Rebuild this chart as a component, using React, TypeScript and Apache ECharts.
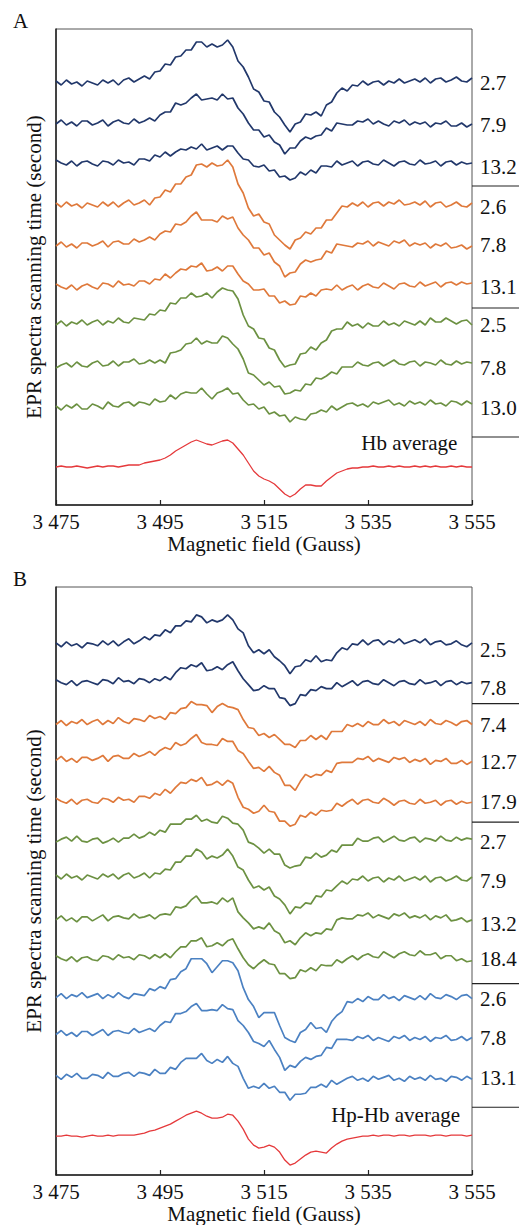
import React, { useEffect, useRef } from "react";
import * as echarts from "echarts";

// Magnetic field sampling (Gauss), one point per Gauss
const FIELD: number[] = Array.from({ length: 81 }, (_, i) => 3475 + i);
const TICK_MIN = 3475;
const TICK_MAX = 3555;
const TICK_STEP = 20;

// ---------- Panel A (Hb) : signal relative to each trace's left baseline (a.u.) ----------
const A_NAVY_27 = [2,-2,3,-1,1,-3,2,0,-2,3, 0,3,-2,3,5,1,4,7,4,11, 12,19,18,26,27,33,33,41,41,36, 39,36,38,43,36,22,16,6,-6,-9, -18,-19,-29,-34,-42,-49,-41,-39,-31,-32, -29,-33,-22,-19,-10,-5,-8,-2,-3,2, -2,1,2,-2,2,0,4,0,2,4, 1,5,0,4,5,1,3,6,2,1, 5];
const A_NAVY_79 = [-1,3,-2,1,-3,2,2,-2,0,3, -3,1,3,0,-1,4,0,2,5,2, 8,11,11,20,18,20,25,29,23,24, 25,23,29,24,25,15,9,0,-7,-7, -14,-12,-19,-22,-31,-25,-25,-18,-14,-16, -13,-12,-5,-8,0,-1,-2,-2,2,1, 4,-1,2,-1,-3,2,0,3,-2,1, -1,1,-4,0,-1,2,-3,-3,0,-4, -1];
const A_NAVY_132 = [3,0,-2,2,-3,1,2,-1,-3,2, 1,-2,3,0,1,-2,4,4,2,8, 6,11,7,11,14,13,16,14,19,13, 15,17,13,17,17,10,4,3,-3,-4, -2,-8,-7,-14,-13,-17,-15,-9,-12,-7, -10,-3,-3,-4,2,-2,0,2,-3,1, 2,-1,-2,3,0,-3,1,2,-1,-2, 3,-1,0,2,-3,1,2,-2,1,-1, 0];
const A_ORANGE_26 = [2,-2,3,-1,1,-3,2,0,-2,3, -1,3,-2,2,5,0,2,5,0,7, 8,15,13,21,21,28,30,40,41,38, 42,39,40,45,38,21,12,-3,-11,-9, -17,-19,-30,-35,-40,-44,-35,-33,-27,-29, -23,-23,-15,-15,-8,-1,-2,2,-1,3, -2,2,3,-1,3,1,5,0,1,3, 0,4,-2,2,3,-2,0,3,-1,-2, 2];
const A_ORANGE_78 = [-1,3,-2,1,-3,2,2,-1,1,4, -2,3,4,1,1,6,3,5,8,5, 11,14,13,21,20,23,29,33,25,25, 25,23,29,26,28,17,10,5,-3,-3, -10,-8,-17,-21,-32,-28,-27,-19,-15,-17, -15,-14,-6,-8,1,0,-1,-2,2,1, 4,-1,3,1,-1,4,2,5,-1,2, 0,2,-3,1,-1,2,-3,-2,0,-4, -1];
const A_ORANGE_131 = [3,0,-2,2,-3,1,3,0,-2,4, 3,0,6,2,3,1,6,6,3,8, 7,13,9,14,18,17,21,20,24,16, 17,20,16,21,21,13,6,3,-3,-3, -2,-9,-9,-16,-14,-18,-17,-9,-10,-6, -9,-3,-2,-3,2,-3,0,2,-3,1, 3,0,-1,4,1,-2,3,4,1,0, 5,1,3,5,0,4,5,2,5,3, 4];
const A_GREEN_25 = [-2,2,-3,1,-1,3,-2,1,3,-2, 2,0,5,1,0,5,4,3,9,8, 13,12,20,19,25,25,30,26,27,30, 25,31,35,33,32,24,8,-3,-6,-15, -16,-25,-27,-37,-44,-42,-41,-31,-30,-24, -27,-20,-17,-8,-6,-6,1,-3,-1,-5, 0,-3,-3,2,-2,0,-3,2,0,-2, 2,-2,5,1,1,5,2,-1,2,3, -2];
const A_GREEN_78 = [-3,0,2,-2,3,-1,-2,2,4,-1, 0,4,-1,3,3,6,1,2,5,2, 5,2,12,13,15,21,22,27,21,24, 22,22,29,27,21,16,6,-8,-10,-15, -20,-17,-22,-21,-29,-28,-25,-26,-19,-20, -13,-14,-11,-7,-9,-2,-2,-2,3,0, -1,2,3,-1,2,5,1,0,3,4, -1,3,2,0,5,1,0,4,1,3, 2];
const A_GREEN_130 = [1,-3,2,-1,3,-2,-2,3,1,-2, 5,1,0,4,5,1,5,4,2,8, 5,6,12,8,13,15,14,14,19,13, 8,14,16,19,13,14,7,2,3,-2, 0,-7,-5,-9,-8,-15,-10,-12,-13,-7, -6,-3,-5,1,-3,0,3,4,1,3, 0,5,3,5,7,2,4,1,6,3, 5,2,7,3,4,1,6,5,2,6, 3];
const A_AVERAGE = [0,1,0,0,1,0,-1,0,1,0, 1,1,0,1,2,2,2,4,5,6, 7,9,12,16,19,22,25,27,25,23, 22,24,26,27,24,18,12,4,-4,-9, -12,-14,-17,-22,-27,-30,-27,-22,-18,-18, -19,-19,-14,-10,-6,-4,-2,-1,-1,0, 0,1,0,0,1,0,1,0,0,1, 0,1,0,1,0,0,1,0,1,0, 0];

// ---------- Panel B (Hp-Hb) ----------
const B_NAVY_25 = [2,-2,3,-1,1,-3,2,1,-1,4, 0,4,-1,3,6,1,4,8,5,10, 9,15,12,19,19,24,23,30,28,22, 25,23,25,30,25,16,12,-1,-8,-5, -9,-5,-12,-16,-21,-29,-22,-21,-15,-17, -11,-17,-15,-16,-8,-3,-5,1,0,5, 0,4,5,0,4,2,6,1,3,5, 2,6,0,3,4,0,1,4,0,-2, 2];
const B_NAVY_78 = [3,0,-2,2,-3,1,2,0,-2,3, 2,-1,5,1,2,-1,4,3,0,4, 2,6,3,10,15,14,18,16,20,12, 13,16,13,18,21,12,4,-2,-8,-7, -3,-6,-6,-15,-16,-23,-21,-12,-13,-7, -8,-4,-6,-6,0,-4,-1,2,-3,1, 2,-1,-2,3,0,-3,1,2,-1,-2, 3,-1,0,2,-3,1,2,-2,1,-1, 0];
const B_ORANGE_74 = [-2,2,-3,1,-1,3,-2,1,3,-2, 2,-1,5,1,-1,4,3,1,7,4, 6,3,10,9,14,15,21,18,18,17, 10,16,19,16,15,13,3,-5,-6,-13, -11,-15,-12,-17,-22,-22,-25,-18,-18,-13, -17,-13,-17,-9,-9,-9,-2,-4,-1,-4, 1,-2,-2,3,-1,1,-3,2,0,-2, 1,-3,3,-1,-2,2,0,-3,1,2, -2];
const B_ORANGE_127 = [-1,3,-2,1,-3,2,2,-1,1,4, -2,3,4,1,1,6,3,5,8,4, 9,12,10,17,14,16,21,25,17,15, 15,14,21,18,18,9,6,-2,-9,-8, -12,-7,-13,-16,-26,-26,-31,-22,-15,-18, -15,-16,-11,-13,-4,-3,-3,-3,1,0, 3,-2,1,-1,-3,2,0,2,-3,0, -2,1,-5,-1,-2,1,-4,-4,-1,-5, -2];
const B_ORANGE_179 = [3,0,-2,2,-3,1,2,-1,-2,3, 2,-1,4,1,2,-1,5,5,3,8, 6,12,8,14,19,18,22,20,24,16, 17,20,16,21,18,4,-6,-8,-12,-10, -4,-10,-11,-20,-20,-25,-23,-14,-16,-11, -14,-9,-10,-9,-2,-5,-1,2,-3,1, 2,-1,-2,3,0,-4,0,1,-2,-3, 2,-2,-1,1,-4,0,1,-3,0,-2, -1];
const B_GREEN_27 = [-3,0,2,-2,3,-2,-3,0,1,-4, -2,1,-3,1,1,5,1,3,7,4, 9,7,15,15,15,20,20,24,18,20, 17,16,23,21,16,15,9,-3,-5,-9, -14,-10,-15,-15,-26,-29,-27,-26,-18,-19, -14,-18,-16,-11,-13,-6,-6,-6,1,-2, -2,1,2,-3,0,3,-1,-2,1,2, -3,1,0,-2,3,-1,-2,2,-1,1, 0];
const B_GREEN_79 = [2,-2,3,-1,1,-3,2,0,-2,3, 0,3,-2,2,4,-1,1,4,-1,4, 3,8,7,15,15,21,21,28,25,18, 21,19,22,28,21,10,7,-3,-11,-9, -13,-10,-19,-22,-28,-37,-30,-31,-26,-27, -19,-20,-13,-14,-9,-4,-7,-2,-3,1, -4,-1,0,-5,-1,-3,1,-4,-2,0, -3,1,-5,-1,0,-4,-2,1,-3,-4, 0];
const B_GREEN_132 = [-1,3,-2,1,-3,2,2,-2,1,4, -2,2,3,1,0,5,1,2,4,0, 4,5,4,12,11,13,19,23,16,16, 17,15,21,17,21,7,1,-4,-10,-8, -10,-4,-12,-15,-24,-22,-26,-19,-14,-17, -14,-15,-10,-11,-1,1,0,0,4,3, 6,1,4,2,0,5,3,6,1,3, 1,4,-1,3,1,4,-2,-1,1,-3, -1];
const B_GREEN_184 = [3,0,-2,2,-3,1,2,-1,-2,3, 2,-1,4,1,2,-1,4,3,0,4, 1,5,1,7,12,12,18,18,21,12, 13,16,13,18,20,10,1,-6,-10,-5, -1,-5,-6,-15,-15,-20,-19,-11,-13,-9, -12,-6,-7,-7,-1,-4,0,3,-1,3, 5,2,1,7,4,1,5,7,4,3, 8,4,4,6,0,3,3,-2,0,-3, -2];
const B_BLUE_26 = [-2,2,-3,1,-1,3,-2,0,2,-3, 1,-2,3,-1,-3,2,1,0,7,5, 9,7,16,17,24,27,37,37,37,32, 23,29,35,35,33,25,8,-4,-11,-22, -17,-17,-17,-30,-42,-45,-47,-37,-34,-27, -33,-32,-37,-26,-20,-16,-6,-7,-3,-6, -1,-4,-4,1,-3,-1,-5,0,-2,-4, 0,-4,2,-2,-3,1,-1,-4,0,1, -3];
const B_BLUE_78 = [-1,3,-2,1,-3,2,2,-2,1,4, -2,2,3,1,0,5,1,3,5,2, 8,12,11,20,20,22,27,30,23,23, 24,23,29,25,24,13,8,1,-8,-10, -13,-7,-16,-24,-37,-32,-34,-28,-24,-26, -23,-22,-14,-15,-6,-6,-6,-7,-3,-5, -2,-7,-4,-6,-8,-3,-5,-2,-7,-4, -6,-3,-8,-4,-5,-2,-7,-6,-3,-7, -4];
const B_BLUE_131 = [1,-3,2,-1,3,-2,-2,2,1,-2, 4,0,0,3,4,0,4,3,1,7, 3,3,9,7,14,18,18,18,23,16, 13,17,14,20,13,10,-2,-12,-10,-12, -7,-12,-10,-16,-16,-24,-18,-18,-17,-11, -11,-8,-11,-4,-8,-5,-2,0,-4,-2, -5,0,-3,-1,1,-4,-2,-5,0,-3, -1,-4,1,-3,-2,-5,0,-1,-4,0, -3];
const B_AVERAGE = [0,0,1,0,0,-1,0,1,0,0, 1,0,1,1,1,1,2,3,5,6, 8,10,12,15,18,21,23,25,23,20, 18,18,19,22,21,15,7,-3,-9,-12, -11,-9,-11,-16,-24,-29,-27,-23,-19,-16, -15,-16,-17,-12,-8,-5,-3,-2,-1,0, 0,1,0,1,1,0,1,1,0,1, 1,1,0,1,1,0,1,1,1,0, 1];

// scan-time labels
const A_TIMES = ["2.7", "7.9", "13.2", "2.6", "7.8", "13.1", "2.5", "7.8", "13.0"];
const B_TIMES = ["2.5", "7.8", "7.4", "12.7", "17.9", "2.7", "7.9", "13.2", "18.4", "2.6", "7.8", "13.1"];

// vertical stacking offsets of the traces (a.u.)
const A_OFFSETS = [422, 382, 342, 300, 260, 218, 182, 140, 98, 38];
const B_OFFSETS = [532, 494, 454, 417, 375, 337, 299, 257, 217, 180, 142, 99, 39];
const A_LABEL_LEVELS = [422, 380, 338, 298, 260, 218, 180, 137, 97];
const B_LABEL_LEVELS = [527, 489, 452, 414, 374, 334, 295, 252, 217, 177, 137, 97];
const A_SEPARATORS = [319, 197, 68];
const B_SEPARATORS = [473, 354, 192, 68];
const A_YMAX = 476;
const B_YMAX = 590;

const NAVY = "#22386b";
const ORANGE = "#df793b";
const GREEN = "#6c9142";
const BLUE = "#4b81c2";
const RED = "#e5393b";

const FONT = "Liberation Serif, Times New Roman, serif";
const INK = "#111111";

const A_TRACES = [
  { v: A_NAVY_27, c: NAVY }, { v: A_NAVY_79, c: NAVY }, { v: A_NAVY_132, c: NAVY },
  { v: A_ORANGE_26, c: ORANGE }, { v: A_ORANGE_78, c: ORANGE }, { v: A_ORANGE_131, c: ORANGE },
  { v: A_GREEN_25, c: GREEN }, { v: A_GREEN_78, c: GREEN }, { v: A_GREEN_130, c: GREEN },
  { v: A_AVERAGE, c: RED },
];
const B_TRACES = [
  { v: B_NAVY_25, c: NAVY }, { v: B_NAVY_78, c: NAVY },
  { v: B_ORANGE_74, c: ORANGE }, { v: B_ORANGE_127, c: ORANGE }, { v: B_ORANGE_179, c: ORANGE },
  { v: B_GREEN_27, c: GREEN }, { v: B_GREEN_79, c: GREEN }, { v: B_GREEN_132, c: GREEN }, { v: B_GREEN_184, c: GREEN },
  { v: B_BLUE_26, c: BLUE }, { v: B_BLUE_78, c: BLUE }, { v: B_BLUE_131, c: BLUE },
  { v: B_AVERAGE, c: RED },
];

const fmtField = (v: number) => {
  const s = String(v);
  return s.slice(0, 1) + " " + s.slice(1);
};

function xAxisFor(gridIndex: number) {
  return {
    gridIndex,
    type: "value",
    min: TICK_MIN,
    max: TICK_MAX,
    interval: TICK_STEP,
    axisLine: { show: true, lineStyle: { color: "#222", width: 1.5 } },
    axisTick: { show: true, inside: true, length: 5, lineStyle: { color: "#222", width: 1.2 } },
    axisLabel: { fontFamily: FONT, fontSize: 21, color: INK, margin: 6, formatter: fmtField, showMinLabel: true, showMaxLabel: true },
    splitLine: { show: false },
    name: "Magnetic field (Gauss)",
    nameLocation: "middle",
    nameGap: 28,
    nameTextStyle: { fontFamily: FONT, fontSize: 21, color: INK },
  };
}

function yAxisFor(gridIndex: number, max: number) {
  return {
    gridIndex,
    type: "value",
    min: 0,
    max,
    axisLine: { show: true, lineStyle: { color: "#222", width: 1.5 } },
    axisTick: { show: false },
    axisLabel: { show: false },
    splitLine: { show: false },
    name: "EPR spectra scanning time (second)",
    nameLocation: "middle",
    nameGap: 12,
    nameRotate: 90,
    nameTextStyle: { fontFamily: FONT, fontSize: 21, color: INK },
  };
}

function seriesFor(traces: { v: number[]; c: string }[], offsets: number[], idx: number) {
  return traces.map((t, k) => ({
    type: "line",
    xAxisIndex: idx,
    yAxisIndex: idx,
    data: t.v.map((val, i) => [FIELD[i], val + offsets[k]]),
    showSymbol: false,
    symbol: "none",
    silent: true,
    lineStyle: { color: t.c, width: t.c === RED ? 1.3 : 1.7 },
  }));
}

export default function App() {
  const ref = useRef<HTMLDivElement>(null);
  useEffect(() => {
    if (!ref.current) return;
    const chart = echarts.init(ref.current, undefined, { renderer: "svg" });
    chart.setOption({
      animation: false,
      backgroundColor: "#ffffff",
      title: [
        { text: "A", left: 13, top: 10, padding: 0, textStyle: { fontFamily: FONT, fontSize: 21, fontWeight: "normal", color: INK } },
        { text: "B", left: 13, top: 568, padding: 0, textStyle: { fontFamily: FONT, fontSize: 21, fontWeight: "normal", color: INK } },
      ],
      grid: [
        { left: 56, top: 29, width: 416, height: 476, show: true, borderColor: "#555", borderWidth: 1, backgroundColor: "transparent" },
        { left: 56, top: 587, width: 416, height: 590, show: true, borderColor: "#555", borderWidth: 1, backgroundColor: "transparent" },
      ],
      xAxis: [xAxisFor(0), xAxisFor(1)],
      yAxis: [yAxisFor(0, A_YMAX), yAxisFor(1, B_YMAX)],
      series: [...seriesFor(A_TRACES, A_OFFSETS, 0), ...seriesFor(B_TRACES, B_OFFSETS, 1)],
    });

    const graphics: any[] = [];
    const textStyle = (text: string, align: string) => ({
      text, fontFamily: FONT, fontSize: 21, fill: INK, align, verticalAlign: "middle",
    });
    const addPanel = (gi: number, times: string[], levels: number[], seps: number[], avgText: string, avgAt: number[]) => {
      times.forEach((t, k) => {
        const p = chart.convertToPixel({ gridIndex: gi } as any, [TICK_MAX, levels[k]]) as number[];
        graphics.push({ type: "text", x: p[0] + 8, y: p[1], silent: true, style: textStyle(t, "left") });
      });
      seps.forEach((s) => {
        const p = chart.convertToPixel({ gridIndex: gi } as any, [TICK_MAX, s]) as number[];
        graphics.push({ type: "line", silent: true, shape: { x1: p[0], y1: p[1], x2: 519, y2: p[1] }, style: { stroke: "#222", lineWidth: 1.2 } });
      });
      const q = chart.convertToPixel({ gridIndex: gi } as any, avgAt) as number[];
      graphics.push({ type: "text", x: q[0], y: q[1], silent: true, style: textStyle(avgText, "right") });
    };
    addPanel(0, A_TIMES, A_LABEL_LEVELS, A_SEPARATORS, "Hb average", [3552.2, 62]);
    addPanel(1, B_TIMES, B_LABEL_LEVELS, B_SEPARATORS, "Hp-Hb average", [3552.7, 60]);
    chart.setOption({ graphic: graphics });

    return () => chart.dispose();
  }, []);
  return <div ref={ref} style={{ position: "absolute", left: 0, top: 0, width: 519, height: 1225, background: "#fff" }} />;
}
